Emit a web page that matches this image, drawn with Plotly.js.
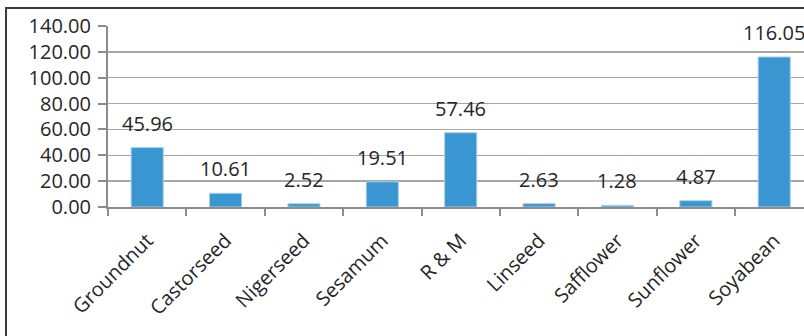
<!DOCTYPE html>
<html><head><meta charset="utf-8">
<script src="https://cdn.plot.ly/plotly-3.0.1.min.js"></script>
<style>html,body{margin:0;padding:0;background:#fff;}#chart{width:804px;height:336px;}</style>
</head><body><div id="chart"></div>
<script>
var categories = ["Groundnut","Castorseed","Nigerseed","Sesamum","R & M","Linseed","Safflower","Sunflower","Soyabean"];
var values = [45.96, 10.61, 2.52, 19.51, 57.46, 2.63, 1.28, 4.87, 116.05];
var yTicks = [0, 20, 40, 60, 80, 100, 120, 140];

var W = 804, H = 336, ml = 108, mr = 0, mt = 26, mb = 129;
var pw = W - ml - mr, ph = H - mt - mb;
function px2x(p){ return (p - ml) / pw; }
function py2y(p){ return 1 - (p - mt) / ph; }
var FONT = 'Open Sans, sans-serif';

var annotations = categories.map(function(c, i){
  return {x: c, y: values[i], xref: 'x', yref: 'y', text: values[i].toFixed(2),
    showarrow: false, yanchor: 'bottom', yshift: 9,
    font: {family: FONT, size: 20, color: '#262626'}};
});

var data = [{type: 'bar', x: categories, y: values,
  marker: {color: '#3a96d1', line: {color: '#a9d0ec', width: 1}},
  hoverinfo: 'none'}];

var layout = {
  width: W, height: H,
  margin: {l: ml, r: mr, t: mt, b: mb, pad: 0},
  paper_bgcolor: '#fff', plot_bgcolor: '#fff',
  showlegend: false, bargap: 0.59,
  font: {family: FONT, size: 20, color: '#262626'},
  xaxis: {type: 'category', range: [-0.5, 8.38], showline: true, linecolor: '#8c8c8c', linewidth: 2,
    ticks: 'outside', ticklen: 7, tickcolor: '#8c8c8c', tickwidth: 2, tickson: 'boundaries',
    tickangle: -45, showgrid: false, zeroline: false, fixedrange: true,
    ticklabelstandoff: 12,
    tickfont: {family: FONT, size: 20, color: '#262626'}},
  yaxis: {range: [0, 140], tickvals: yTicks, tickformat: '.2f', showline: true, linecolor: '#8c8c8c', linewidth: 2,
    ticks: 'outside', ticklen: 8, tickcolor: '#8c8c8c', tickwidth: 2,
    showgrid: true, gridcolor: '#a6a6a6', gridwidth: 1.5, zeroline: false, fixedrange: true,
    ticklabelstandoff: 3,
    tickfont: {family: FONT, size: 20, color: '#262626'}},
  annotations: annotations,
  shapes: [
    {type: 'line', xref: 'paper', yref: 'paper', x0: px2x(6), x1: px2x(6), y0: py2y(8), y1: py2y(340), line: {color: '#3c3c3c', width: 2}},
    {type: 'line', xref: 'paper', yref: 'paper', x0: px2x(5), x1: px2x(810), y0: py2y(8), y1: py2y(8), line: {color: '#3c3c3c', width: 2}}
  ]
};

Plotly.newPlot('chart', data, layout, {staticPlot: true, displayModeBar: false});
</script></body></html>
